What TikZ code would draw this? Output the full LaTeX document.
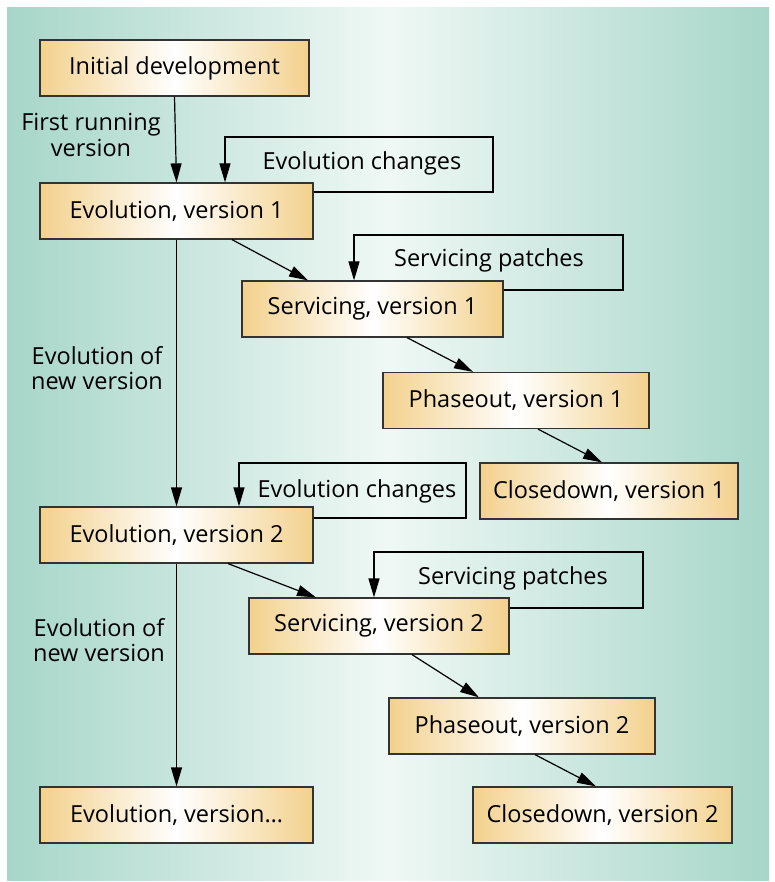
\documentclass[tikz,border=0pt]{standalone}
\usepackage{fontspec}
\setmainfont{Open Sans}
\usetikzlibrary{arrows.meta}
\definecolor{tealbg}{HTML}{A7D6C9}
\definecolor{palebg}{HTML}{EFF8F5}
\definecolor{boxtan}{HTML}{F3D18D}
\tikzset{
  stage/.style={draw=black!80, line width=1.2pt, left color=boxtan, right color=boxtan,
    middle color=white, minimum height=56pt, inner sep=0pt,
    font=\fontsize{23.5}{25}\selectfont},
  lbl/.style={align=center, inner sep=0pt, font=\fontsize{23.5}{25.5}\selectfont},
  flow/.style={-{Triangle[length=19pt,width=11pt]}, line width=1.2pt},
}
\begin{document}
\begin{tikzpicture}[x=1pt,y=-1pt]
  % background
  \fill[white] (0,0) rectangle (774,882);
  \shade[left color=tealbg, right color=tealbg, middle color=palebg] (7,8) rectangle (769,880);

  % stages
  \node[stage, minimum width=269pt] (init) at (174.5,68) {Initial development};
  \node[stage, minimum width=273pt] (evo1) at (176.5,211) {Evolution, version 1};
  \node[stage, minimum width=261pt] (serv1) at (372.5,309) {Servicing, version 1};
  \node[stage, minimum width=266pt] (phase1) at (516,400.5) {Phaseout, version 1};
  \node[stage, minimum width=258pt] (close1) at (609,491) {Closedown, version 1};
  \node[stage, minimum width=273pt] (evo2) at (176.5,535) {Evolution, version 2};
  \node[stage, minimum width=260pt] (serv2) at (379,626) {Servicing, version 2};
  \node[stage, minimum width=266pt] (phase2) at (522,726) {Phaseout, version 2};
  \node[stage, minimum width=259pt] (close2) at (602.5,815) {Closedown, version 2};
  \node[stage, minimum width=273pt] (evo3) at (176.5,815) {Evolution, version\dots};

  % labels
  \node[lbl] (first) at (91,135) {First running\\version};
  \node[lbl] (newver1) at (97,368) {Evolution of\\new version};
  \node[lbl] (newver2) at (99,640) {Evolution of\\new version};
  \node[lbl] (chg1) at (362,163) {Evolution changes};
  \node[lbl] (patch1) at (489,260) {Servicing patches};
  \node[lbl] (chg2) at (357,491) {Evolution changes};
  \node[lbl] (patch2) at (513,578) {Servicing patches};

  % main flow
  \draw[flow] (init.south) -- (evo1.north);
  \draw[flow] (evo1.south) -- (evo2.north);
  \draw[flow] (evo2.south) -- (evo3.north);
  \draw[flow] ([xshift=55.5pt]evo1.south) -- ([xshift=-64.5pt]serv1.north);
  \draw[flow] ([xshift=34.5pt]serv1.south) -- ([xshift=-43pt]phase1.north);
  \draw[flow] ([xshift=22pt]phase1.south) -- ([xshift=-7pt]close1.north);
  \draw[flow] ([xshift=51.5pt]evo2.south) -- ([xshift=-63pt]serv2.north);
  \draw[flow] ([xshift=33pt]serv2.south) -- ([xshift=-43pt]phase2.north);
  \draw[flow] ([xshift=13pt]phase2.south) -- ([xshift=-6.5pt]close2.north);

  % feedback loops
  \coordinate (l1a) at (493,192);
  \coordinate (l1b) at (493,137);
  \coordinate (l1c) at (225,137);
  \draw[flow] (evo1.east |- l1a) -- (l1a) -- (l1b) -- (l1c) -- (l1c |- evo1.north);
  \coordinate (l2a) at (623,290);
  \coordinate (l2b) at (623,235);
  \coordinate (l2c) at (354,235);
  \draw[flow] (serv1.east |- l2a) -- (l2a) -- (l2b) -- (l2c) -- (l2c |- serv1.north);
  \coordinate (l3a) at (466,518);
  \coordinate (l3b) at (466,463);
  \coordinate (l3c) at (239,463);
  \draw[flow] (evo2.east |- l3a) -- (l3a) -- (l3b) -- (l3c) -- (l3c |- evo2.north);
  \coordinate (l4a) at (643,608);
  \coordinate (l4b) at (643,552);
  \coordinate (l4c) at (374,552);
  \draw[flow] (serv2.east |- l4a) -- (l4a) -- (l4b) -- (l4c) -- (l4c |- serv2.north);
\end{tikzpicture}
\end{document}
